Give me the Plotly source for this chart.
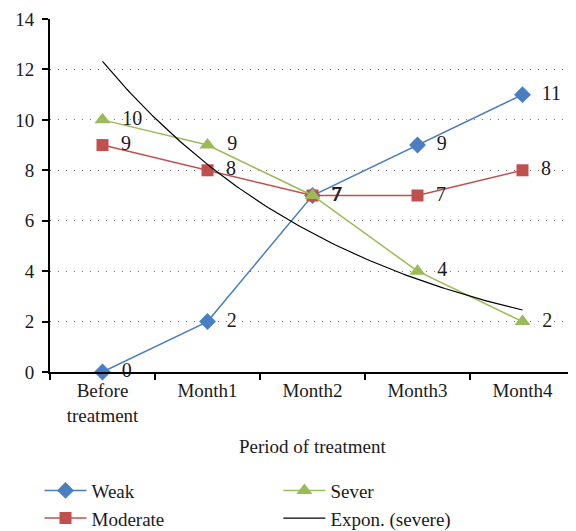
import numpy as np
import plotly.graph_objects as go

categories = ["Before<br>treatment", "Month1", "Month2", "Month3", "Month4"]
weak = [0, 2, 7, 9, 11]
moderate = [9, 8, 7, 7, 8]
sever = [10, 9, 7, 4, 2]
y_ticks = [0, 2, 4, 6, 8, 10, 12, 14]

idx = list(range(len(categories)))

# Exponential trendline fitted to the severe series (as Excel does)
b, ln_a = np.polyfit(np.array(idx) + 1, np.log(sever), 1)
tx = np.linspace(0, len(categories) - 1, 120)
ty = np.exp(ln_a) * np.exp(b * (tx + 1))

FONT = "Liberation Serif"
fig = go.Figure()

def series(name, vals, color, symbol, size, legend):
    fig.add_trace(go.Scatter(
        x=idx, y=vals, name=name, mode="lines+markers+text",
        line=dict(color=color, width=1.5),
        marker=dict(symbol=symbol, size=size, color=color),
        text=[f"  {v}" for v in vals], textposition="middle right",
        textfont=dict(family=FONT, size=20, color="#1a1a1a"),
        legend=legend, cliponaxis=False,
    ))

series("Weak", weak, "#4A7EC2", "diamond", 13, "legend")
series("Moderate", moderate, "#C0504D", "square", 12, "legend")
series("Sever", sever, "#9BBB59", "triangle-up", 14, "legend2")

fig.add_trace(go.Scatter(
    x=tx, y=ty, name="Expon. (severe)", mode="lines",
    line=dict(color="black", width=1.2), legend="legend2",
))

leg_common = dict(orientation="v", y=-0.282, yanchor="top", xanchor="left",
                  font=dict(family=FONT, size=19), tracegroupgap=0,
                  bgcolor="rgba(0,0,0,0)", itemwidth=42)

fig.update_layout(
    width=568, height=523,
    margin=dict(l=42, r=1, t=11, b=159, autoexpand=False),
    paper_bgcolor="white", plot_bgcolor="white",
    font=dict(family=FONT, size=19, color="#1a1a1a"),
    showlegend=True,
    legend=dict(x=-0.02, **leg_common),
    legend2=dict(x=0.435, **leg_common),
)

fig.update_xaxes(
    range=[-0.5, len(categories) - 0.5],
    tickmode="array", tickvals=idx, ticktext=categories,
    ticks="", showgrid=False, zeroline=False,
    showline=True, linecolor="black", linewidth=2,
    tickfont=dict(family=FONT, size=19),
    minor=dict(tickmode="array", tickvals=[i - 0.5 for i in range(len(categories) + 1)],
               ticks="outside", ticklen=6, tickwidth=2, tickcolor="black", showgrid=False),
)
fig.update_yaxes(
    range=[0, 14], tickmode="array", tickvals=y_ticks,
    ticks="outside", ticklen=6, tickwidth=2, tickcolor="black",
    showline=True, linecolor="black", linewidth=2,
    showgrid=True, gridcolor="#7f7f7f", griddash="1px,7px", gridwidth=1.2,
    zeroline=False, tickfont=dict(family=FONT, size=19),
    ticklabelstandoff=4,
)

fig.add_annotation(text="Period of treatment", xref="paper", yref="paper",
                   x=0.5, y=-0.212, xanchor="center", yanchor="middle",
                   showarrow=False, font=dict(family=FONT, size=19))

fig.write_html("out.html")
